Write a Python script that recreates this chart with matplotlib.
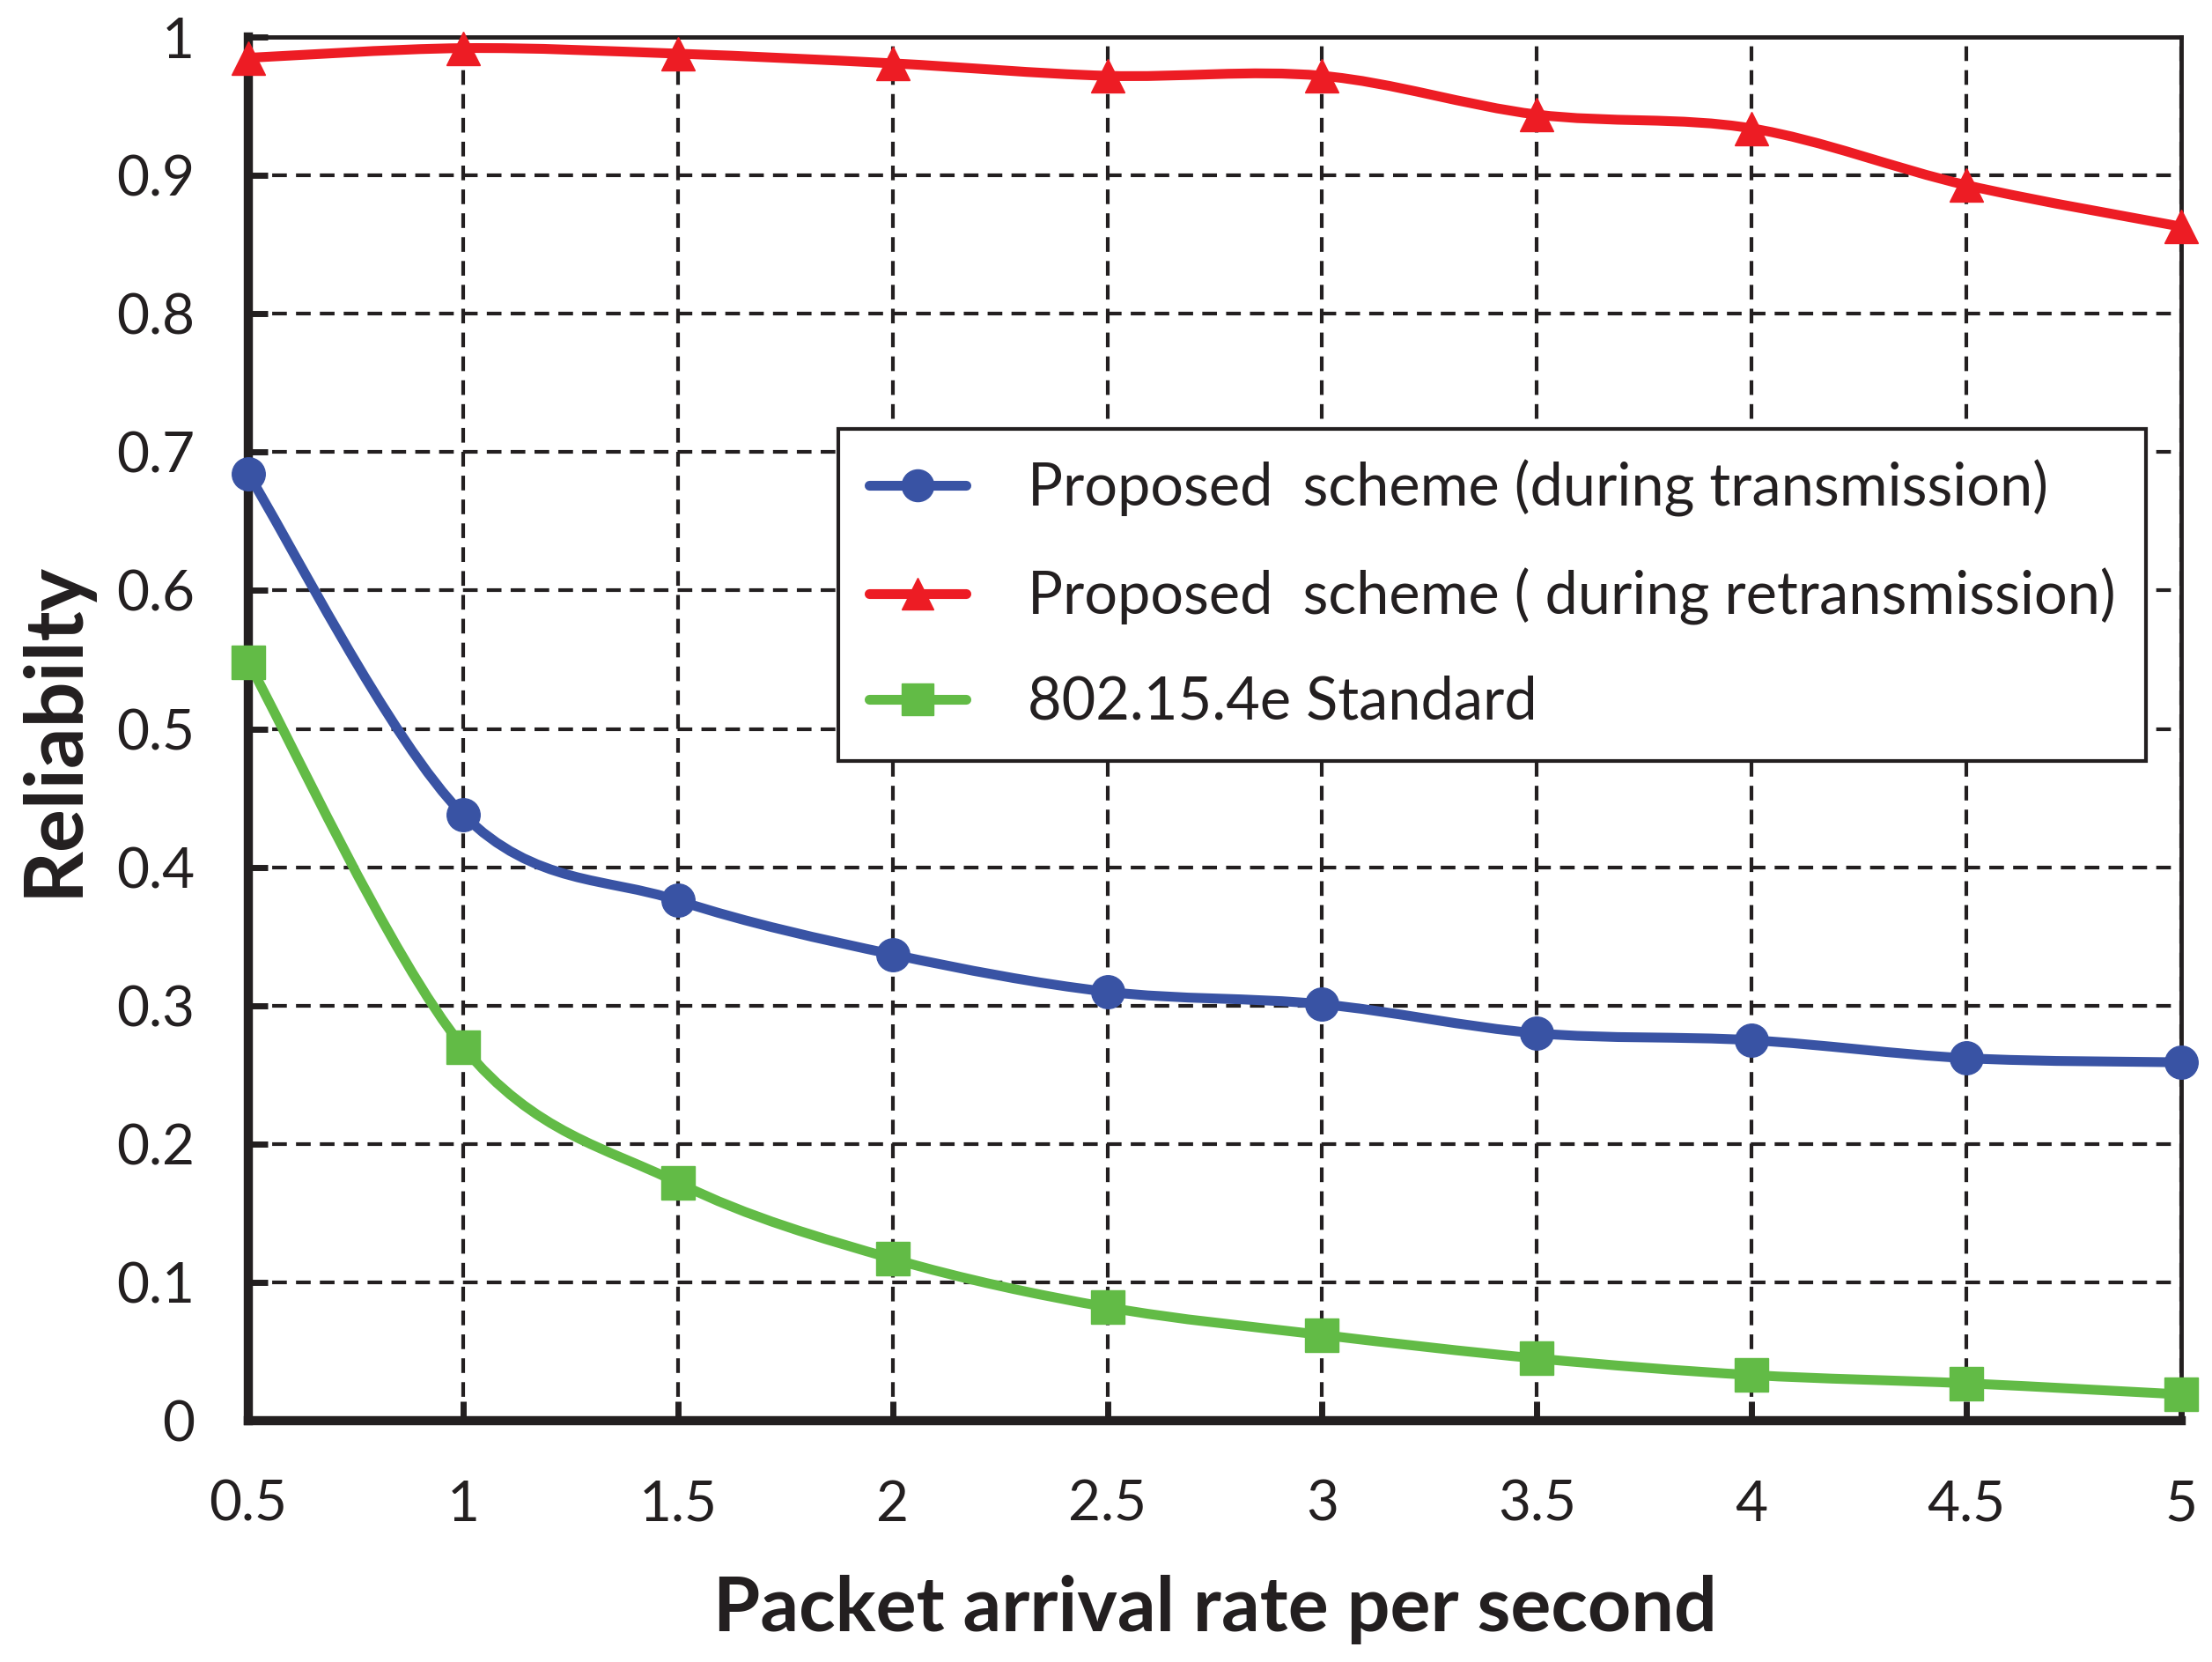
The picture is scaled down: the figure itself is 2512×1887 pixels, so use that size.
import numpy as np
import matplotlib
matplotlib.use("Agg")
import matplotlib.pyplot as plt
from matplotlib.path import Path
from matplotlib.patches import PathPatch
from matplotlib.lines import Line2D

plt.rcParams['font.family'] = ['Lato', 'DejaVu Sans']

rate = [0.5, 1, 1.5, 2, 2.5, 3, 3.5, 4, 4.5, 5]
transmission = [0.684, 0.438, 0.376, 0.337, 0.310, 0.301, 0.280, 0.275, 0.262, 0.259]
retransmission = [0.985, 0.992, 0.988, 0.981, 0.972, 0.972, 0.944, 0.934, 0.893, 0.863]
standard = [0.548, 0.270, 0.172, 0.117, 0.082, 0.062, 0.045, 0.033, 0.027, 0.019]

labels = ["Proposed  scheme (during transmission)",
          "Proposed  scheme ( during retransmission)",
          "802.15.4e Standard"]
colors = ["#3953A4", "#ED1C24", "#62BB46"]
markers = ["o", "^", "s"]
series = [transmission, retransmission, standard]


def smooth_path(x, y):
    # Catmull-Rom segments drawn as cubic Bezier curves
    pts = np.column_stack([x, y]).astype(float)
    n = len(pts)
    verts = [pts[0]]
    codes = [Path.MOVETO]
    for i in range(n - 1):
        p0 = pts[i - 1] if i > 0 else pts[i]
        p1 = pts[i]
        p2 = pts[i + 1]
        p3 = pts[i + 2] if i + 2 < n else pts[i + 1]
        c1 = p1 + (p2 - p0) / 6.0
        c2 = p2 - (p3 - p1) / 6.0
        verts += [c1, c2, p2]
        codes += [Path.CURVE4] * 3
    return Path(verts, codes)


fig = plt.figure(figsize=(25.12, 18.87), dpi=100)
ax = fig.add_axes([0.1123, 0.1452, 0.8737, 0.8325])

ink = '#231F20'
lw = 8
for vals, c, m, lab in zip(series, colors, markers, labels):
    ax.add_patch(PathPatch(smooth_path(rate, vals), facecolor='none',
                           edgecolor=c, lw=lw, zorder=3, clip_on=False,
                           capstyle='round', joinstyle='round'))
    ax.plot(rate, vals, linestyle='none', marker=m, color=c,
            markersize=27, zorder=4, clip_on=False)

ax.set_xlim(0.5, 5)
ax.set_ylim(0, 1)
ax.set_xticks(rate)
ax.set_xticklabels(["0.5", "1", "1.5", "2", "2.5", "3", "3.5", "4", "4.5", "5"])
ax.set_yticks(np.arange(0, 1.01, 0.1))
ax.set_yticklabels(["0", "0.1", "0.2", "0.3", "0.4", "0.5", "0.6", "0.7", "0.8", "0.9", "1"])

ax.grid(True, color=ink, linestyle=(0, (4, 2.5)), linewidth=3.0)
ax.set_axisbelow(True)

for s in ['left', 'bottom']:
    ax.spines[s].set_linewidth(7.5)
for s in ['top', 'right']:
    ax.spines[s].set_linewidth(3.5)
for s in ax.spines.values():
    s.set_color(ink)

ax.tick_params(direction='in', length=16, width=5, colors=ink,
               labelsize=46)
ax.tick_params(axis='y', pad=44)
ax.tick_params(axis='x', pad=48)

ax.set_xlabel("Packet arrival rate per second", fontsize=62,
              fontweight='bold', color=ink, labelpad=36)
ax.set_ylabel("Reliabilty", fontsize=66, fontweight='bold',
              color=ink, labelpad=20)

handles = [Line2D([], [], color=c, marker=m, lw=lw, markersize=26,
                  solid_capstyle='round')
           for c, m in zip(colors, markers)]
leg = ax.legend(handles, labels, loc='upper left',
                bbox_to_anchor=(0.3052, 0.7167), borderaxespad=0,
                fontsize=48, frameon=True, fancybox=False, edgecolor=ink,
                framealpha=1, handlelength=1.65, handletextpad=1.05,
                labelspacing=0.86, borderpad=0.52)
leg.get_frame().set_linewidth(3)
for t in leg.get_texts():
    t.set_color(ink)

fig.savefig("out.png", dpi=100)
